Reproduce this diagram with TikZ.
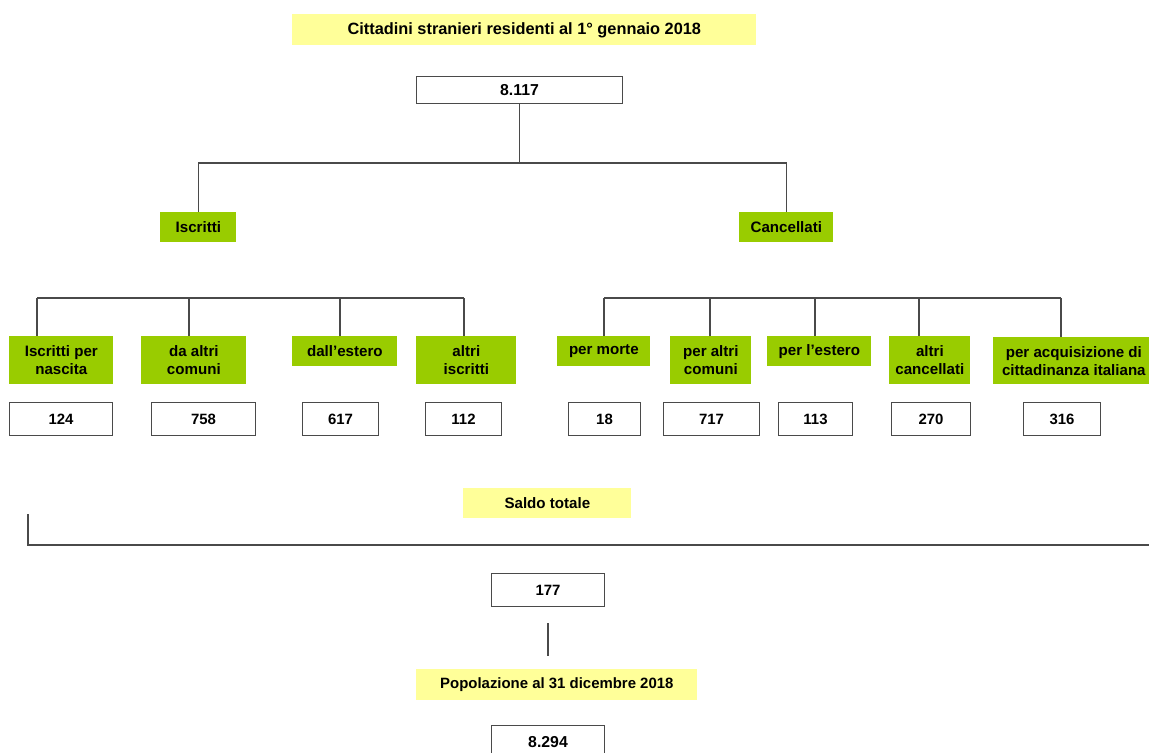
\documentclass[tikz,border=0pt]{standalone}
\usepackage{fontspec}
\setmainfont{Liberation Sans}
\usetikzlibrary{calc}
\definecolor{leafgreen}{HTML}{99CC00}
\definecolor{paleyellow}{HTML}{FFFF99}
\definecolor{linegray}{HTML}{4A4A4A}
\tikzset{
	link/.style={draw=linegray, line width=0.6pt},
	valbox/.style={draw=linegray, line width=0.6pt, fill=white, anchor=north west, inner sep=0pt, minimum height=0.66cm, font=\bfseries\fontsize{8.5}{10}\selectfont},
	bigbox/.style={valbox, minimum height=0.54cm, font=\bfseries\fontsize{9}{11}\selectfont},
	greenbox/.style={fill=leafgreen, anchor=north west, inner sep=0pt, align=center, font=\bfseries\fontsize{8.6}{10.5}\selectfont},
	yellowbox/.style={fill=paleyellow, anchor=north west, inner sep=0pt, minimum height=0.62cm, font=\bfseries\fontsize{8.6}{10}\selectfont}
}

\begin{document}
\begin{tikzpicture}[x=0.02cm, y=-0.02cm]
		%%%%% START %%%%%
		\useasboundingbox (0, 0) rectangle (1149, 752);
		\fill[white] (0, 0) rectangle (1149, 752);
		\clip (0, 0) rectangle (1149, 752);
		
		% titolo e popolazione iniziale
		\node[yellowbox, minimum width=9.28cm, font=\bfseries\fontsize{9.3}{11}\selectfont] (titolo) at (292, 14) {Cittadini stranieri residenti al 1° gennaio 2018};
		\node[bigbox, minimum width=4.12cm] (inizio) at (416, 76) {8.117};
		
		% iscritti / cancellati
		\node[greenbox, minimum width=1.52cm, minimum height=0.6cm] (iscr) at (160, 212) {Iscritti};
		\node[greenbox, minimum width=1.88cm, minimum height=0.6cm] (canc) at (739, 212) {Cancellati};
		\coordinate (split) at (inizio.south |- 0, 163);
		\draw[link] (inizio.south) -- (split);
		\draw[link] (iscr.north) |- (split) -| (canc.north);
		
		% voci degli iscritti
		\node[greenbox, minimum width=2.08cm, minimum height=0.96cm] (nasc) at (9, 336) {Iscritti per\\nascita};
		\node[greenbox, minimum width=2.10cm, minimum height=0.96cm] (comu) at (141, 336) {da altri\\comuni};
		\node[greenbox, minimum width=2.10cm, minimum height=0.60cm] (este) at (292, 336) {dall’estero};
		\node[greenbox, minimum width=2.00cm, minimum height=0.96cm] (altr) at (416, 336) {altri\\iscritti};
		
		% voci dei cancellati
		\node[greenbox, minimum width=1.86cm, minimum height=0.60cm] (mort) at (557, 336) {per morte};
		\node[greenbox, minimum width=1.62cm, minimum height=0.96cm] (pcom) at (670, 336) {per altri\\comuni};
		\node[greenbox, minimum width=2.08cm, minimum height=0.60cm] (pest) at (767, 336) {per l’estero};
		\node[greenbox, minimum width=1.62cm, minimum height=0.96cm] (acan) at (889, 336) {altri\\cancellati};
		\node[greenbox, minimum width=3.22cm, minimum height=0.94cm] (acqu) at (993, 337) {per acquisizione di\\cittadinanza italiana};
		
		\draw[link] (37, 298) -- (464, 298);
		\foreach \x/\n in {37/nasc, 189/comu, 340/este, 464/altr}
			\draw[link] (\x, 298) -- (\x, 298 |- \n.north);
		\draw[link] (604, 298) -- (1061, 298);
		\foreach \x/\n in {604/mort, 710/pcom, 815/pest, 919/acan, 1061/acqu}
			\draw[link] (\x, 298) -- (\x, 298 |- \n.north);
		
		% valori
		\node[valbox, minimum width=2.06cm] (v124) at (9, 402) {124};
		\node[valbox, minimum width=2.08cm] (v758) at (151, 402) {758};
		\node[valbox, minimum width=1.52cm] (v617) at (302, 402) {617};
		\node[valbox, minimum width=1.52cm] (v112) at (425, 402) {112};
		\node[valbox, minimum width=1.44cm] (v18) at (568, 402) {18};
		\node[valbox, minimum width=1.92cm] (v717) at (663, 402) {717};
		\node[valbox, minimum width=1.48cm] (v113) at (778, 402) {113};
		\node[valbox, minimum width=1.58cm] (v270) at (891, 402) {270};
		\node[valbox, minimum width=1.54cm] (v316) at (1023, 402) {316};
		
		% saldo
		\node[yellowbox, minimum width=3.36cm, minimum height=0.6cm] (saldo) at (463, 488) {Saldo totale};
		\draw[link, line width=0.8pt] (28, 514) -- (28, 545) -- (1160, 545);
		\node[valbox, minimum width=2.26cm] (v177) at (491, 573) {177};
		
		% popolazione finale
		\node[yellowbox, minimum width=5.62cm, font=\bfseries\fontsize{8.5}{10}\selectfont] (pop) at (416, 669) {Popolazione al 31 dicembre 2018};
		\draw[link, shorten <=0.32cm, shorten >=0.26cm] (v177.south) -- (v177.south |- pop.north);
		\node[bigbox, minimum width=2.26cm, minimum height=0.66cm] (fine) at (491, 725) {8.294};
		%%%%% END %%%%%
	\end{tikzpicture}
\end{document}
